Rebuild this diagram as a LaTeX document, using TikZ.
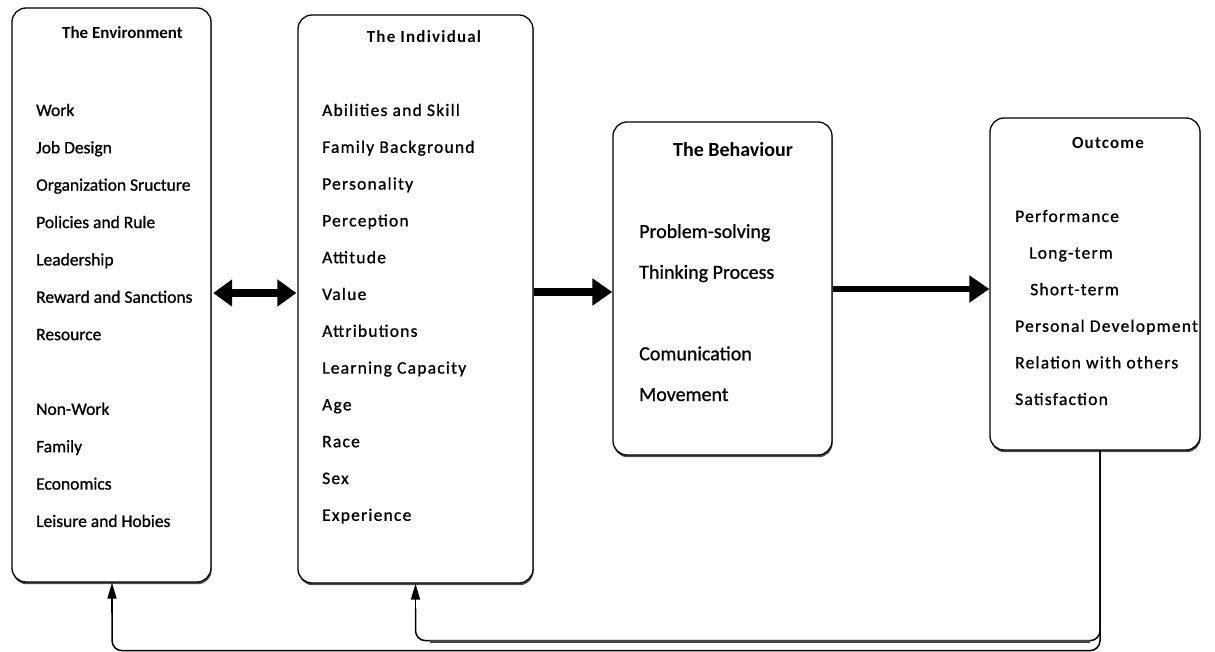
\documentclass[tikz,border=0pt]{standalone}
\usepackage{fontspec}
\setmainfont{Carlito}
\usetikzlibrary{arrows.meta,shadows,calc}

\begin{document}
\begin{tikzpicture}[x=1pt,y=-1pt,
  panel/.style={draw=black, line width=1.3pt, rounded corners=14pt, fill=white,
    inner sep=0pt, drop shadow={shadow xshift=0.6pt, shadow yshift=-2.2pt, fill=black!70, opacity=1}},
  title/.style={inner sep=0pt, anchor=base, font=\bfseries\fontsize{17}{20}\selectfont},
  item/.style={inner sep=0pt, anchor=base west, font=\fontsize{17.5}{20}\selectfont\addfontfeature{FakeBold=0.9}},
  spaced/.style={font=\fontsize{17.5}{20}\selectfont\addfontfeature{LetterSpace=7,FakeBold=0.9}},
  bigitem/.style={font=\fontsize{20}{23}\selectfont\addfontfeature{FakeBold=0.9}},
  heavy/.style={line width=#1, -{Triangle[length=20pt,width=26pt]}},
  twoway/.style={line width=8pt, {Triangle[length=19pt,width=26pt]}-{Triangle[length=19pt,width=26pt]}},
  fback/.style={line width=1.5pt, rounded corners=10pt},
  fbtip/.style={line width=1.5pt, -{Triangle[length=16pt,width=9pt]}}
]
\useasboundingbox (0,0) rectangle (1215,652);

% the four panels
\node[panel, minimum width=199pt, minimum height=574pt] (env) at (111.5,295) {};
\node[panel, minimum width=235pt, minimum height=568pt] (ind) at (415.5,299) {};
\node[panel, minimum width=219pt, minimum height=333pt] (beh) at (722.5,288.5) {};
\node[panel, minimum width=210pt, minimum height=332pt] (out) at (1095,284) {};

% titles
\node[title] (env-title) at (122.5,39) {The Environment};
\node[title, font=\bfseries\fontsize{17}{20}\selectfont\addfontfeature{LetterSpace=7}] (ind-title) at (424,43) {The Individual};
\node[title, font=\bfseries\fontsize{20}{23}\selectfont] (beh-title) at (733,157) {The Behaviour};
\node[title, font=\bfseries\fontsize{17}{20}\selectfont\addfontfeature{LetterSpace=7}] (out-title) at (1108,149) {Outcome};

% environment factors
\foreach \t/\k in {Work/0, Job Design/1, Organization Sructure/2, Policies and Rule/3,
    Leadership/4, Reward and Sanctions/5, Resource/6, Non-Work/8, Family/9,
    Economics/10, Leisure and Hobies/11}
  \node[item] (env-\k) at (36,116+37.36*\k) {\t};

% individual factors
\foreach \t/\k in {Abilities and Skill/0, Family Background/1, Personality/2, Perception/3,
    Attitude/4, Value/5, Attributions/6, Learning Capacity/7, Age/8, Race/9, Sex/10,
    Experience/11}
  \node[item, spaced] (ind-\k) at (322,116+36.8*\k) {\t};

% behaviour
\foreach \t/\k in {Problem-solving/0, Thinking Process/1, Comunication/3, Movement/4}
  \node[item, bigitem] (beh-\k) at (639,238+40.75*\k) {\t};

% outcomes
\foreach \t/\k/\dx in {Performance/0/0, Long-term/1/14, Short-term/2/15,
    Personal Development/3/0, Relation with others/4/0, Satisfaction/5/0}
  \node[item, spaced] (out-\k) at (1015+\dx,222+36.6*\k) {\t};

% main flow
\coordinate (flowA) at (0,293);
\coordinate (flowB) at (0,292);
\coordinate (flowC) at (0,289);
\draw[twoway] ($(env.east |- flowA)+(1.5,0)$) -- ($(ind.west |- flowA)+(-1,0)$);
\draw[heavy=8pt] (ind.east |- flowB) -- (beh.west |- flowB);
\draw[heavy=6.5pt] (beh.east |- flowC) -- (out.west |- flowC);

% feedback loops: rounded runs, then straight end pieces carrying the tips
\coordinate (fb) at ($(out.south)+(5,0)$);
\coordinate (envrise) at ($(env.south)+(0.5,30)$);
\coordinate (indrise) at ($(ind.south)+(0,25)$);
\draw[fback] (fb) |- ($(env.south)+(0.5,68)$) -- (envrise);
\draw[fback] (fb) |- ($(ind.south)+(0,57)$) -- (indrise);
\draw[fbtip] (envrise) -- ($(env.south)+(0.5,0)$);
\draw[fbtip] (indrise) -- (ind.south);
\draw[line width=3.6pt, black!72] ($(ind.south)+(14,58)$) -- ($(fb)+(-10,191)$);
\end{tikzpicture}
\end{document}
